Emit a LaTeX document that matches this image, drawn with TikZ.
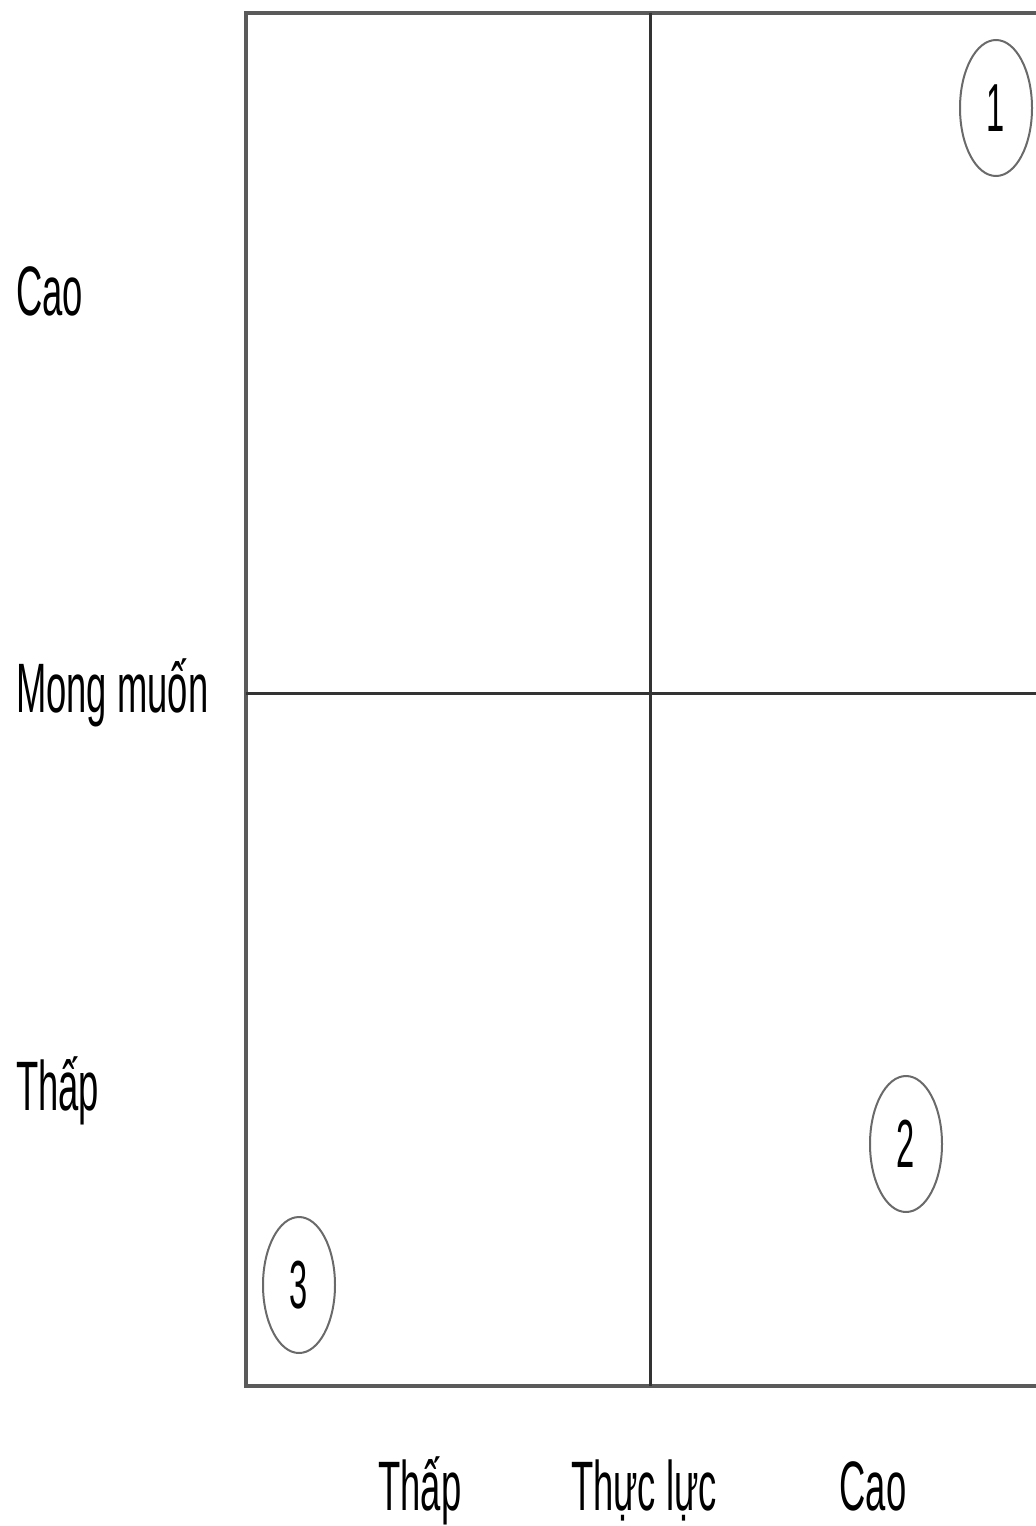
\documentclass[tikz,border=0pt]{standalone}
\usepackage{fontspec}
\setmainfont{Liberation Sans}
\usetikzlibrary{shapes.geometric}
\definecolor{framegray}{HTML}{5A5A5A}
\definecolor{linegray}{HTML}{333333}
\definecolor{ringgray}{HTML}{6A6A6A}
\tikzset{
  lbl/.style={inner sep=0pt, font=\fontsize{70}{80}\selectfont, xscale=0.52, text=black},
  ring/.style={draw=ringgray, line width=2pt, ellipse, minimum width=72pt, minimum height=136pt, inner sep=0pt},
  ringnum/.style={font=\fontsize{68}{72}\selectfont, xscale=0.48, inner sep=0pt},
  frame/.style={draw=framegray, line width=4pt},
  divider/.style={draw=linegray, line width=3pt}
}
\begin{document}
\begin{tikzpicture}[x=1pt,y=-1pt]
\useasboundingbox (0,0) rectangle (1036,1526);
\clip (0,0) rectangle (1036,1526);
% frame
\draw[frame] (1060,13) -- (246,13) -- (246,1386) -- (1060,1386);
% dividers
\draw[divider] (650,13) -- (650,1386);
\draw[divider] (246,693) -- (1060,693);
% rings
\node[ring] (r1) at (996,108) {};
\node[ringnum] at (r1.center) {1};
\node[ring] (r2) at (906,1144) {};
\node[ringnum] at (r2.center) {2};
\node[ring] (r3) at (299,1285) {};
\node[ringnum] at (r3.center) {3};
% left labels
\node[lbl, anchor=base west] (ycao) at (16,315) {Cao};
\node[lbl, anchor=base west] (ymm) at (16,712) {Mong muốn};
\node[lbl, anchor=base west] (ythap) at (16,1110) {Thấp};
% bottom labels
\node[lbl, anchor=base] (xthap) at (420,1510) {Thấp};
\node[lbl, anchor=base] (xtl) at (644,1510) {Thực lực};
\node[lbl, anchor=base] (xcao) at (873,1510) {Cao};
\end{tikzpicture}
\end{document}
